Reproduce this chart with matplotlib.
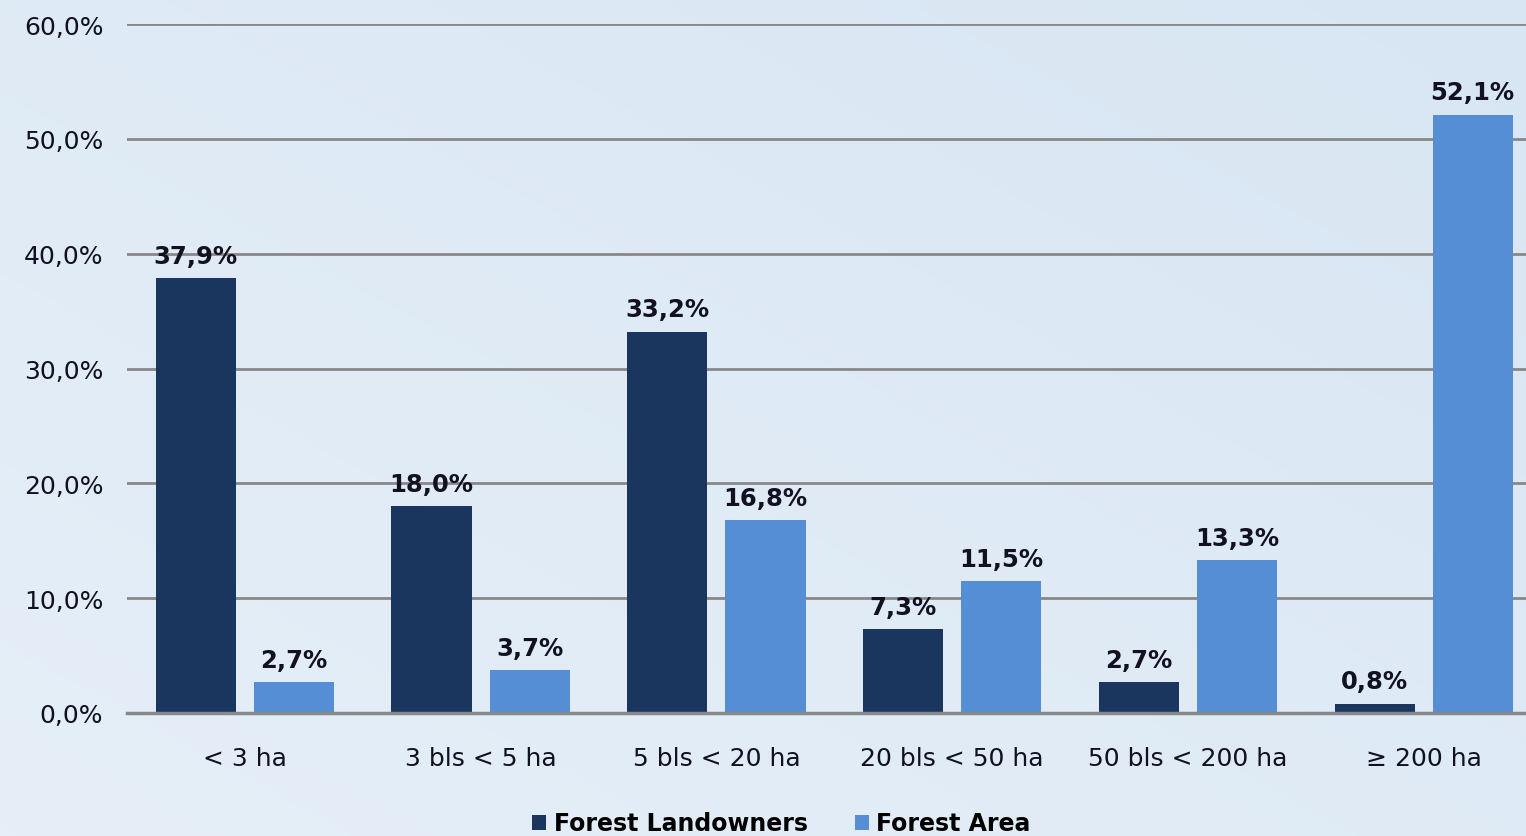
import numpy as np
import matplotlib.pyplot as plt
from matplotlib.colors import LinearSegmentedColormap

categories = ['< 3 ha', '3 bls < 5 ha', '5 bls < 20 ha', '20 bls < 50 ha', '50 bls < 200 ha', '≥ 200 ha']
landowners = [37.9, 18.0, 33.2, 7.3, 2.7, 0.8]
area = [2.7, 3.7, 16.8, 11.5, 13.3, 52.1]
series_names = ['Forest Landowners', 'Forest Area']

dark = '#1a365e'
light = '#558ed5'

fig = plt.figure(figsize=(15.26, 8.37), dpi=100)
# soft blue background
bg = fig.add_axes([0, 0, 1, 1], zorder=-10)
yy, xx = np.mgrid[0:1:200j, 0:1:300j]
grad = 0.5 * xx + 0.5 * (1 - yy)
bg.imshow(grad, cmap=LinearSegmentedColormap.from_list('bgc', ['#e6eff8', '#d8e6f3']),
          aspect='auto', extent=[0, 1, 0, 1])
bg.axis('off')

# axes runs a little past the right edge, like the original
ax = fig.add_axes([0.0832, 0.147, 0.927, 0.823])
ax.patch.set_alpha(0)

x = np.arange(len(categories))
w = 0.34
off = 0.208
b1 = ax.bar(x - off, landowners, w, color=dark, label=series_names[0], zorder=3)
b2 = ax.bar(x + off, area, w, color=light, label=series_names[1], zorder=3)

for bars, vals in ((b1, landowners), (b2, area)):
    for b, v in zip(bars, vals):
        ax.text(b.get_x() + b.get_width() / 2, v + 0.9, f'{v:.1f}%'.replace('.', ','),
                ha='center', va='bottom', fontsize=17.5, fontweight='bold', color='#111122')

ax.set_xlim(-0.5, len(categories) - 0.5)
ax.set_ylim(0, 60)
ax.set_yticks(range(0, 61, 10))
ax.set_yticklabels([f'{t},0%' for t in range(0, 61, 10)], fontsize=18, color='#111122')
ax.set_xticks(x)
ax.set_xticklabels(categories, fontsize=18, color='#111122')
ax.tick_params(length=0)
ax.tick_params(axis='y', pad=17)
ax.tick_params(axis='x', pad=24)
ax.grid(axis='y', color='#888888', linewidth=2, zorder=0)
ax.axhline(0, color='#888888', linewidth=2.5, zorder=4, clip_on=False)
for s in ax.spines.values():
    s.set_visible(False)

fig.legend(handles=[b1, b2], loc='center', bbox_to_anchor=(0.512, 0.015), ncol=2,
           frameon=False, prop={'weight': 'bold', 'size': 17},
           handlelength=0.6, handleheight=0.6, handletextpad=0.3, columnspacing=2.0)

fig.savefig('out.png', dpi=100)
